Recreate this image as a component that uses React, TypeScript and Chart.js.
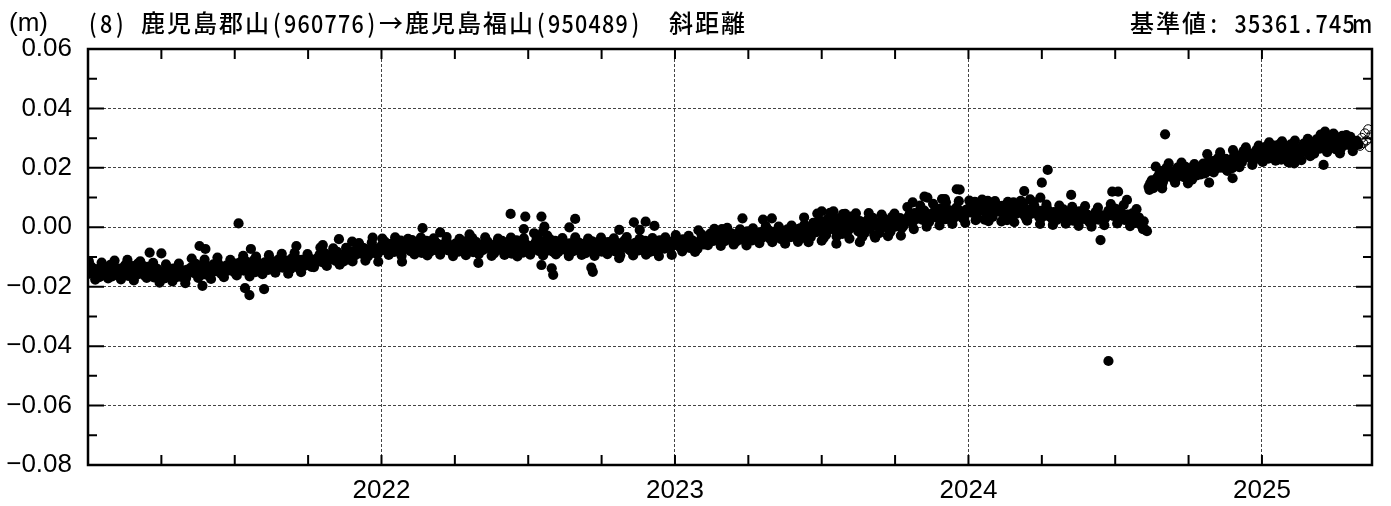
import React, { useEffect, useRef } from "react";
import { Chart, registerables } from "chart.js";

Chart.register(...registerables);

// ---- data (values in millimetres, converted to metres when plotted) ----
const TITLE = "(8) 鹿児島郡山(960776)→鹿児島福山(950489)　斜距離";
const UNIT = "(m)";
const REFERENCE = "基準値: 35361.745m";

const YEARS = [2021, 2022, 2023, 2024, 2025];
const STEP_DAYS = 4; // "a" and "b" arrays: one solution every 4 days
const OFFSET_B = 2; // "b" solutions are 2 days after "a"
const STEP_C = 8; // "c" arrays: one solution every 8 days
const OFFSET_C = 1;

const a2021 = [
  -14.8, -13.2, -15.9, -14.1, -16.3, -13.5, -15.0, -12.6, -14.7, -16.0,
  -13.9, -15.2, -12.4, -14.6, -13.1, -16.1, -14.3, -12.9, -15.4, -13.7,
  -15.8, -16.5, -14.6, -15.3, -17.0, -14.9, -16.2, -15.1, -13.8, -16.7, -15.5, -14.2,
  -13.6, -15.4, -12.8, -14.5, -13.0, -16.0, -13.9, -12.5, -14.8, -13.3, -15.6, -12.9, -14.1, -13.4,
  -12.2, -14.0, -12.9, -11.4, -13.8, -12.5, -15.1, -12.0, -13.6, -11.8, -14.3, -12.7,
  -11.5, -13.4, -10.9, -12.8, -11.2, -14.0, -12.3, -10.8, -13.1, -11.6, -12.6, -10.5, -12.1,
  -10.6, -9.2, -11.8, -9.9, -10.9, -8.7, -11.3, -9.6, -10.2, -8.9, -10.8,
  -8.1, -9.5, -7.6, -8.9, -7.2, -9.8, -8.4, -7.0, -9.1, -7.9,
];
const b2021 = [
  -15.6, -13.8, -14.9, -16.8, -13.0, -15.3, -14.2, -16.5, -13.6, -15.1,
  -14.5, -12.8, -16.4, -13.5, -15.0, -12.2, -14.8, -16.2, -13.3, -14.9,
  -16.9, -14.0, -15.7, -17.3, -14.4, -16.0, -13.9, -16.8, -15.2, -14.5, -17.1, -15.0,
  -14.9, -12.3, -14.2, -15.9, -12.6, -14.4, -15.3, -13.0, -12.2, -15.8, -13.7, -14.6, -12.4, -15.2,
  -13.5, -11.6, -14.6, -12.3, -13.0, -11.1, -13.9, -14.8, -12.4, -13.2, -11.5, -14.0,
  -12.7, -10.6, -13.6, -11.9, -13.0, -10.4, -12.5, -13.7, -11.0, -12.9, -10.7, -13.3, -11.4,
  -11.6, -9.9, -8.6, -11.0, -9.4, -10.5, -8.3, -10.0, -11.5, -9.2, -9.7,
  -9.0, -7.4, -8.7, -6.9, -9.3, -7.8, -8.6, -7.3, -8.0,
];
const c2021 = [
  -11.4, -17.6, -11.9, -17.2, -11.2,
  -17.5, -11.0, -17.9, -11.5, -17.0,
  -12.0, -18.6, -12.5, -18.2, -12.2, -18.8,
  -10.5, -17.0, -10.9, -17.4, -10.2, -16.8, -11.0,
  -16.2, -9.6, -16.5, -9.9, -15.8, -9.4,
  -15.3, -8.9, -15.6, -8.6, -15.1, -9.0,
  -13.4, -6.8, -13.0, -7.1, -12.6, -6.9,
  -11.5, -5.3, -11.2, -5.1, -11.6,
];
const a2022 = [
  -6.2, -4.8, -7.5, -5.6, -8.3, -6.0, -4.5, -7.1, -5.3, -8.0,
  -6.8, -5.0, -7.7, -6.1, -4.6, -8.4, -6.6, -5.2, -7.3, -6.0,
  -4.9, -7.9, -6.4, -5.5, -8.2, -6.9, -4.7, -7.4, -5.8, -6.5,
  -8.6, -5.9, -7.2, -4.8, -6.7, -8.8, -5.4, -7.6, -6.3, -8.1,
  -5.7, -7.0, -4.4, -6.8, -8.5, -5.9, -7.4, -6.2, -4.9, -8.0,
  -6.6, -5.3, -7.8, -6.1, -4.6, -8.3, -6.9, -5.5, -7.2, -6.0,
  -4.8, -7.7, -6.4, -5.6, -8.1, -6.8, -5.1, -7.3, -6.2, -4.9,
  -7.6, -5.8, -6.9, -8.2, -5.4, -6.6, -4.7, -7.5, -6.0, -5.2,
  -7.8, -6.4, -4.6, -6.9, -5.7, -8.0, -6.1, -4.8, -7.2, -5.5, -6.7, -5.0,
];
const b2022 = [
  -7.0, -5.4, -6.3, -8.1, -4.9, -6.7, -7.9, -5.5, -6.4, -4.3,
  -7.4, -6.0, -8.6, -5.3, -6.9, -4.9, -7.6, -5.7, -8.3, -6.4,
  -5.2, -7.1, -8.7, -6.2, -4.8, -7.8, -5.6, -6.6, -8.4, -5.0,
  -6.9, -7.7, -4.9, -6.0, -8.3, -5.6, -6.8, -4.6, -7.5, -6.1,
  -8.9, -5.5, -6.6, -7.9, -5.1, -6.4, -8.2, -5.8, -7.1, -6.7,
  -4.7, -7.5, -6.0, -8.4, -5.6, -6.9, -4.9, -7.8, -5.4, -8.1,
  -6.5, -5.2, -7.2, -8.7, -6.1, -4.7, -7.4, -5.9, -8.2, -6.6,
  -5.0, -6.9, -8.0, -5.6, -7.3, -4.5, -6.3, -7.9, -5.5, -6.8,
  -4.9, -7.4, -6.0, -8.3, -5.3, -6.6, -4.4, -7.0, -5.8, -6.2, -4.7,
];
const c2022 = [
  -3.8, -9.3, -3.4, -9.6, -3.9, -9.1, -3.5, -9.5, -3.7, -9.2,
  -3.3, -9.7, -3.9, -9.4, -3.6, -9.0, -3.4, -9.6, -3.8, -9.3,
  -3.5, -9.8, -3.7, -9.2, -3.3, -9.5, -3.9, -9.1, -3.6, -9.7,
  -3.4, -9.3, -3.8, -9.6, -3.5, -9.0, -3.7, -9.4, -3.3, -9.5,
  -3.9, -9.2, -3.6, -9.7, -3.4, -9.3,
];
const a2023 = [
  -5.9, -4.6, -7.0, -5.2, -3.8, -6.4, -5.0, -7.3, -4.4, -5.8,
  -3.5, -2.1, -4.6, -3.0, -1.8, -4.2, -2.7, -3.9,
  -2.4, -4.8, -3.1, -1.6, -3.7, -2.2, -4.4, -2.9,
  -1.9, -3.6, -2.3, -0.9, -3.2, -1.5, -2.8, -4.0,
  -2.0, -0.7, -3.3, -1.8, -2.6, -0.4, -3.5, -1.2, -0.8,
  1.5, -1.6, 2.4, 0.3, -2.5, 1.8, -0.6, 3.0,
  0.2, -2.2, 2.2, -0.9, 1.1, 3.4, -1.4,
  0.9, -1.9, 2.6, 0.1, -2.7, 1.7, -0.3,
  2.9, 0.5, -1.5, 2.0, 1.0, 3.1, 0.4,
  2.8, 4.5, 1.9, 3.6, 5.2, 2.5, 4.0, 1.8,
  3.9, 5.5, 3.1, 4.6, 2.7, 5.8, 4.2, 3.3, 6.0, 4.8, 3.6, 5.3,
];
const b2023 = [
  -4.9, -6.6, -4.1, -5.7, -6.9, -4.5, -6.1, -5.3, -3.9, -4.8,
  -2.8, -4.3, -1.5, -3.6, -2.4, -4.7, -3.3, -2.0,
  -3.8, -2.5, -4.2, -2.9, -1.4, -3.5, -2.6, -4.1,
  -3.0, -1.3, -2.9, -3.8, -1.7, -2.4, -3.4, -1.1,
  -3.1, -2.2, -1.0, -2.8, -0.5, -2.3, -1.4, -0.2, -2.0,
  -0.8, 2.0, 0.6, -1.8, 2.8, -0.2, 1.3, -2.3,
  2.7, 0.4, -1.0, 3.6, 1.4, -0.4, 2.1,
  -1.1, 1.9, -0.5, 3.2, 0.7, -2.0, 2.3,
  1.4, -0.9, 3.5, 0.2, 2.4, -0.3, 1.6,
  3.4, 1.6, 4.8, 2.9, 3.9, 5.6, 2.2, 4.4,
  5.1, 3.2, 6.3, 4.1, 2.8, 5.6, 3.7, 6.6, 4.5, 3.0, 5.9,
];
const c2023 = [
  -2.6, -8.1, -2.9, -8.3, -2.4,
  -6.0, -0.5, -6.3, -0.2, -5.8, -0.7, -6.1, -0.4,
  -5.3, 0.4, -5.0, 0.2, -5.5, 0.6, -4.9, 0.9,
  -3.3, 4.6, -3.6, 4.9, -3.1, 4.4, -3.8, 4.7,
  -3.2, 4.8, -3.5, 4.3, -3.0, 4.6, -2.8,
  6.8, -0.6, 7.3, 0.2, 7.9, 0.6, 8.4, 1.1, 8.8, 1.5,
];
const a2024 = [
  6.3, 4.9, 8.6, 5.4, 6.6, 2.6, 8.9, 5.8, 5.0, 6.9,
  5.1, 6.4, 2.4, 5.9, 8.4, 4.6, 5.5, 8.0, 2.8, 5.2, 6.2,
  4.7, 3.4, 5.6, 3.9, 4.9, 2.9, 4.4, 5.3, 3.6, 4.0,
  3.2, 4.8, 2.6, 3.9, 5.0, 2.8, 4.2, 3.1, 2.4, 4.6, 3.5, 2.7, 4.1,
  5.2, 3.8, 6.0, 4.4, 3.1,
  3.6, 2.2, 4.7, 1.5, 3.3, 0.6, -0.8,
  13.6, 15.8, 14.4, 17.2, 18.9, 16.6, 19.4, 17.8, 15.9, 20.1, 18.4, 16.9, 19.6, 18.0, 20.6, 17.5,
  19.2, 21.4, 18.6, 20.8, 22.3, 19.7, 21.9, 20.4, 23.0, 21.2, 19.9, 22.6, 24.1, 21.8, 23.5, 25.0, 22.9, 24.6, 23.4, 25.3,
];
const b2024 = [
  5.2, 7.6, 3.9, 6.1, 8.1, 4.4, 6.7, 3.5, 7.3, 5.6,
  7.2, 4.0, 5.8, 3.4, 6.7, 5.0, 7.6, 3.8, 6.0, 4.5, 7.1,
  5.5, 3.0, 4.6, 6.2, 3.5, 5.1, 2.5, 4.8, 6.0, 3.3,
  4.4, 2.2, 3.7, 5.4, 2.9, 4.5, 1.9, 3.8, 5.1, 2.6, 4.0, 3.0, 5.5,
  4.1, 6.3, 3.4, 5.0, 2.5,
  4.3, 1.8, 3.5, 2.6, 0.9, 2.0, -1.3,
  14.8, 13.2, 16.5, 18.3, 15.4, 19.9, 17.1, 18.8, 16.3, 19.2, 17.6, 20.3, 18.6, 16.0, 19.8, 18.9,
  20.5, 18.1, 22.0, 19.4, 21.3, 23.2, 20.1, 22.5, 19.0, 21.7, 23.8, 20.9, 22.4, 25.6, 23.7, 24.8, 22.1, 26.0, 24.3,
];
const c2024 = [
  9.0, 2.4, 9.3, 2.1, 8.8,
  2.0, 8.6, 1.7, 8.9, 2.2, 8.4,
  1.1, 7.6, 0.8, 7.3, 1.2,
  6.9, 0.5, 7.1, 0.2, 6.6, 0.7,
  7.8, 1.3, 7.5,
  0.4, 6.1, -0.6,
  12.6, 20.4, 14.6, 21.5, 15.0, 21.8, 14.8, 21.3,
  17.8, 24.6, 18.5, 25.2, 19.4, 26.0, 20.2, 26.9, 21.0, 27.5,
];
const a2025 = [
  24.2, 26.8, 23.1, 25.9, 27.5, 24.6, 22.8, 26.3, 25.0, 27.9, 23.7, 26.1, 24.9, 28.2, 25.6, 23.9,
  27.4, 29.6, 26.5, 28.9, 30.3, 27.1, 29.0, 26.2, 28.6, 30.8, 27.7, 29.3, 26.9, 28.4, 27.8,
];
const b2025 = [
  25.1, 27.3, 23.9, 26.5, 24.4, 28.0, 25.8, 23.3, 27.0, 24.6, 26.9, 22.9, 25.4, 27.6, 24.7,
  26.6, 28.8, 27.3, 30.0, 26.8, 29.4, 27.9, 31.0, 28.1, 26.4, 29.8, 28.6, 30.4, 27.2, 29.1,
];
const c2025 = [22.0, 28.6, 22.4, 28.9, 21.8, 29.2, 22.6, 29.8, 24.8, 31.2, 25.3, 31.5, 24.9, 31.0, 25.6];

const aValues = [a2021, a2022, a2023, a2024, a2025];
const bValues = [b2021, b2022, b2023, b2024, b2025];
const cValues = [c2021, c2022, c2023, c2024, c2025];

const outlierDates = [
  2021.21, 2021.25, 2021.38, 2021.4, 2021.39, 2021.513, 2021.535, 2021.55, 2021.555, 2021.6, 2021.71, 2021.8, 2021.855, 2021.9, 2021.97,
  2022.07, 2022.14, 2022.2, 2022.3, 2022.33, 2022.44, 2022.485, 2022.49, 2022.52, 2022.53, 2022.545, 2022.545, 2022.55, 2022.555, 2022.565,
  2022.58, 2022.585, 2022.64, 2022.66, 2022.715, 2022.72, 2022.81, 2022.81, 2022.86, 2022.88, 2022.9, 2022.93,
  2023.08, 2023.16, 2023.23, 2023.3, 2023.33, 2023.44, 2023.455, 2023.5, 2023.5, 2023.54, 2023.55, 2023.58, 2023.63, 2023.81, 2023.85,
  2023.86, 2023.91, 2023.92, 2023.96, 2023.97,
  2024.19, 2024.21, 2024.245, 2024.25, 2024.27, 2024.35, 2024.45, 2024.49, 2024.51, 2024.477, 2024.54, 2024.66, 2024.67, 2024.82, 2024.9,
  2025.11, 2025.21, 2025.215,
];
const outlierValues = [
  -8.5, -8.8, -6.3, -7.3, -19.7, 1.3, -20.5, -22.8, -7.3, -20.8, -6.3, -6.0, -4.0, -4.8, -3.5,
  -11.6, -0.3, -1.7, -2.4, -12.0, 4.5, -0.6, 3.6, -2.0, -3.0, 3.6, -12.7, -1.5, 0.2, -2.8,
  -13.8, -16.0, 0.0, 2.8, -13.6, -15.0, -0.9, -10.4, 1.7, -0.9, 1.9, 0.5,
  -1.0, -0.6, 3.0, 2.6, 3.0, 3.3, -5.0, 5.4, -4.5, 5.4, -5.5, 4.5, -5.0, 8.4, 10.3,
  10.0, 9.5, 9.5, 12.8, 12.7,
  12.2, 9.4, 10.0, 15.0, 19.3, 10.9, -4.3, 12.0, 12.0, -45.0, 9.2, 13.1, 31.3, 15.0, 16.5,
  21.5, 21.0, 32.2,
];

// preliminary solutions (open circles)
const prelimDates = [2025.334, 2025.34, 2025.345, 2025.351, 2025.356, 2025.362, 2025.367, 2025.373];
const prelimValues = [27.4, 30.1, 28.3, 31.6, 29.2, 33.0, 27.0, 31.0];

const X_MIN = 2021;
const X_MAX = 2025.375;
const X_LABEL_YEARS = [2022, 2023, 2024, 2025];
const Y_MIN = -0.08;
const Y_MAX = 0.06;
const Y_GRID_CENTS = [4, 2, 0, -2, -4, -6];

const NUM_FONT = "'Liberation Sans', Arial, sans-serif";
const CJK_FONT = "'Noto Sans CJK JP', 'Noto Sans', sans-serif";

function isFull(ch: string) {
  return ch.charCodeAt(0) > 0x2000;
}
function monoWidth(text: string, half: number, full: number) {
  return Array.from(text).reduce((s, c) => s + (isFull(c) ? full : half), 0);
}
function drawMono(ctx: CanvasRenderingContext2D, text: string, x: number, y: number, half: number, full: number) {
  let cx = x;
  ctx.textAlign = "center";
  for (const c of Array.from(text)) {
    const w = isFull(c) ? full : half;
    if (c.trim()) {
      if (isFull(c)) {
        ctx.font = `500 24px ${CJK_FONT}`;
        ctx.fillText(c, cx + w / 2, y);
      } else {
        ctx.save();
        ctx.font = `500 25px ${CJK_FONT}`;
        ctx.translate(cx + w / 2, y);
        ctx.scale(0.86, 1);
        ctx.fillText(c, 0, 0);
        ctx.restore();
      }
    }
    cx += w;
  }
}

const decoPlugin = {
  id: "deco",
  afterDatasetsDraw(chart: any) {
    const { ctx, chartArea: a, scales } = chart;
    const xs = scales.x;
    const ys = scales.y;
    ctx.save();
    ctx.strokeStyle = "#000";
    ctx.lineWidth = 2;
    ctx.setLineDash([]);
    ctx.beginPath();
    ys.ticks.forEach((t: any) => {
      const p = ys.getPixelForValue(t.value);
      const cents = Math.round(t.value * 100);
      const len = cents % 2 === 0 ? 16 : 9;
      ctx.moveTo(a.left, p);
      ctx.lineTo(a.left + len, p);
      ctx.moveTo(a.right, p);
      ctx.lineTo(a.right - len, p);
    });
    xs.ticks.forEach((t: any) => {
      const p = xs.getPixelForValue(t.value);
      ctx.moveTo(p, a.top);
      ctx.lineTo(p, a.top + 10);
      ctx.moveTo(p, a.bottom);
      ctx.lineTo(p, a.bottom - 10);
    });
    ctx.stroke();
    ctx.lineWidth = 2.5;
    ctx.strokeRect(a.left, a.top, a.right - a.left, a.bottom - a.top);
    ctx.restore();
  },
  afterDraw(chart: any) {
    const { ctx, chartArea: a } = chart;
    ctx.save();
    ctx.fillStyle = "#000";
    ctx.textBaseline = "middle";
    ctx.font = `26px ${NUM_FONT}`;
    ctx.textAlign = "left";
    ctx.fillText(UNIT, 9, 24);
    drawMono(ctx, TITLE, 86, 23, 13.5, 26);
    const w = monoWidth(REFERENCE, 13.5, 26);
    drawMono(ctx, REFERENCE, a.right - 3 - w, 23, 13.5, 26);
    ctx.restore();
  },
};

export default function App() {
  const ref = useRef<HTMLCanvasElement | null>(null);

  useEffect(() => {
    if (!ref.current) return;
    const main = YEARS.flatMap((yr, k) => [
      ...aValues[k].map((v, i) => ({ x: yr + (i * STEP_DAYS) / 365, y: v / 1000 })),
      ...bValues[k].map((v, i) => ({ x: yr + (i * STEP_DAYS + OFFSET_B) / 365, y: v / 1000 })),
      ...cValues[k].map((v, i) => ({ x: yr + (i * STEP_C + OFFSET_C) / 365, y: v / 1000 })),
    ]);
    const outliers = outlierDates.map((d, i) => ({ x: d, y: outlierValues[i] / 1000 }));
    const prelim = prelimDates.map((d, i) => ({ x: d, y: prelimValues[i] / 1000 }));

    const chart = new Chart(ref.current, {
      type: "scatter",
      data: {
        datasets: [
          { data: main, backgroundColor: "#000", borderWidth: 0, pointRadius: 5.1, clip: 0 } as any,
          { data: outliers, backgroundColor: "#000", borderWidth: 0, pointRadius: 5.1, clip: 0 } as any,
          {
            data: prelim,
            backgroundColor: "rgba(255,255,255,0)",
            borderColor: "#000",
            borderWidth: 1,
            pointRadius: 4.5,
            clip: 0,
          } as any,
        ],
      },
      options: {
        animation: false,
        responsive: false,
        devicePixelRatio: 1,
        events: [],
        layout: { padding: { top: 49, right: 19, left: 0, bottom: 0 } },
        plugins: { legend: { display: false }, tooltip: { enabled: false }, title: { display: false } },
        scales: {
          x: {
            type: "linear",
            min: X_MIN,
            max: X_MAX,
            afterFit: (s: any) => {
              s.height = 41;
            },
            border: { display: false, dash: [3, 2] },
            grid: {
              drawTicks: false,
              lineWidth: 1,
              color: (c: any) => {
                const v = c.tick ? c.tick.value : NaN;
                return X_LABEL_YEARS.some((y) => Math.abs(v - y) < 1e-6) ? "#444" : "rgba(0,0,0,0)";
              },
            },
            ticks: {
              stepSize: 0.25,
              autoSkip: false,
              maxRotation: 0,
              padding: 10,
              color: "#000",
              font: { family: NUM_FONT, size: 26 },
              callback: (v: any) => {
                const n = Number(v);
                const yr = X_LABEL_YEARS.find((y) => Math.abs(n - y) < 1e-6);
                return yr ? String(yr) : "";
              },
            },
          },
          y: {
            type: "linear",
            min: Y_MIN,
            max: Y_MAX,
            afterFit: (s: any) => {
              s.width = 88;
            },
            border: { display: false, dash: [3, 2] },
            grid: {
              drawTicks: false,
              lineWidth: 1,
              color: (c: any) => {
                const v = c.tick ? Math.round(c.tick.value * 100) : NaN;
                return Y_GRID_CENTS.includes(v) ? "#444" : "rgba(0,0,0,0)";
              },
            },
            ticks: {
              stepSize: 0.01,
              autoSkip: false,
              padding: 16,
              color: "#000",
              font: { family: NUM_FONT, size: 26 },
              callback: (v: any) => {
                const cents = Math.round(Number(v) * 100);
                if (cents % 2 !== 0) return "";
                const s = (Math.abs(cents) / 100).toFixed(2);
                return cents < 0 ? "\u2212" + s : s;
              },
            },
          },
        },
      },
      plugins: [decoPlugin],
    });
    return () => chart.destroy();
  }, []);

  return (
    <div style={{ position: "absolute", left: 0, top: 0, width: 1391, height: 506, background: "#fff" }}>
      <canvas ref={ref} width={1391} height={506} style={{ display: "block", width: 1391, height: 506 }} />
    </div>
  );
}
